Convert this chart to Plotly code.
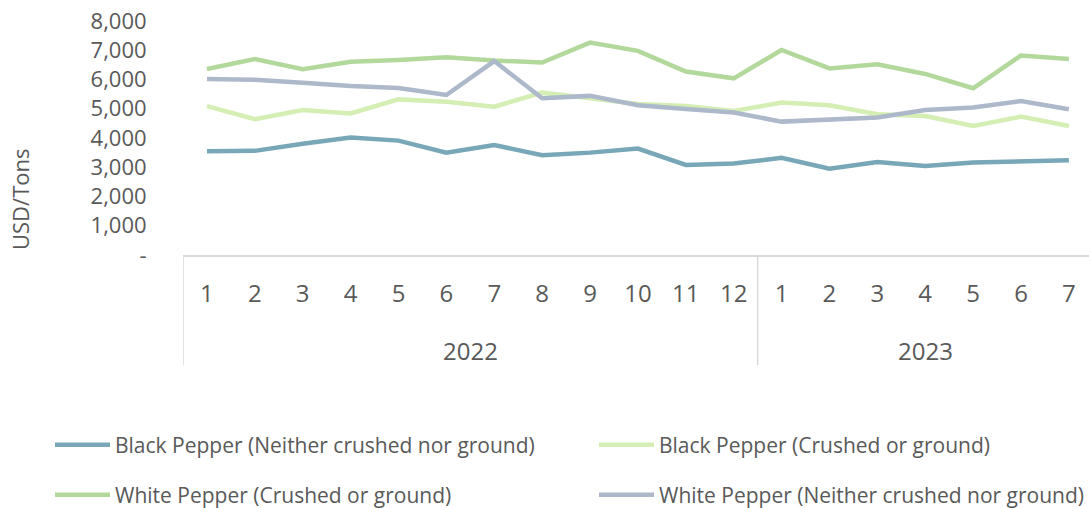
import plotly.graph_objects as go

years = ["2022"] * 12 + ["2023"] * 7
months = [str(m) for m in range(1, 13)] + [str(m) for m in range(1, 8)]
categories = [f"{y}-{m}" for y, m in zip(years, months)]

black_neither = [3550, 3560, 3800, 4020, 3910, 3500, 3760, 3410, 3500, 3640, 3080, 3130,
                 3320, 2950, 3180, 3040, 3160, 3210, 3240]
black_crushed = [5090, 4640, 4960, 4840, 5320, 5240, 5070, 5550, 5360, 5160, 5090, 4920,
                 5210, 5120, 4810, 4750, 4410, 4730, 4410]
white_crushed = [6360, 6700, 6350, 6610, 6670, 6760, 6650, 6580, 7260, 6980, 6270, 6040,
                 7010, 6380, 6520, 6190, 5700, 6820, 6700]
white_neither = [6020, 5990, 5890, 5780, 5710, 5470, 6630, 5360, 5440, 5120, 4990, 4870,
                 4560, 4640, 4700, 4960, 5040, 5260, 4980]

series = [
    ("Black Pepper (Neither crushed nor ground)", black_neither, "#78A7B7"),
    ("Black Pepper (Crushed or ground)", black_crushed, "#D4EEB3"),
    ("White Pepper (Crushed or ground)", white_crushed, "#B2D89C"),
    ("White Pepper (Neither crushed nor ground)", white_neither, "#ADB8CA"),
]
legend_ids = ["legend", "legend2", "legend3", "legend4"]
# legend slot positions (px): anchor x, row centre y
legend_pos = [(50, 445), (594, 445), (50, 495), (594, 495)]

FONT = "Open Sans, sans-serif"
GREY = "#595959"
LINE = "#D9D9D9"
W, H = 1089, 508

fig = go.Figure()
for (name, vals, color), leg in zip(series, legend_ids):
    fig.add_trace(go.Scatter(
        x=categories, y=vals, name=name, mode="lines",
        line=dict(color=color, width=4.5), legend=leg,
    ))

# year group labels and dividers
year_names = ["2022", "2023"]
shapes = []
annotations = []
bounds = [-0.5]
for yn in year_names:
    idx = [i for i, y in enumerate(years) if y == yn]
    annotations.append(dict(text=yn, xref="x", yref="paper",
                            x=(idx[0] + idx[-1]) / 2, y=-(350 - 255) / 234,
                            showarrow=False, xanchor="center", yanchor="middle",
                            font=dict(size=24, color=GREY)))
    bounds.append(idx[-1] + 0.5)
for b in bounds:
    shapes.append(dict(type="line", xref="x", yref="paper", x0=b, x1=b,
                       y0=0, y1=-(365 - 255) / 234, line=dict(color=LINE, width=1.5)))

annotations.append(dict(text="USD/Tons", xref="paper", yref="paper",
                        x=(20 - 183) / 906, y=(255 - 200) / 234, showarrow=False,
                        textangle=-90, xanchor="center", yanchor="middle",
                        font=dict(size=22, color=GREY)))

legends = {}
for leg, (px, py) in zip(legend_ids, legend_pos):
    legends[leg] = dict(orientation="h", xref="container", yref="container",
                        x=px / W, y=1 - py / H, xanchor="left", yanchor="middle",
                        itemwidth=55, font=dict(size=21, color=GREY),
                        bgcolor="rgba(0,0,0,0)")

fig.update_layout(
    width=W, height=H,
    margin=dict(l=183, r=0, t=21, b=253, autoexpand=False),
    plot_bgcolor="white", paper_bgcolor="white",
    font=dict(family=FONT, color=GREY, size=22),
    showlegend=True,
    annotations=annotations,
    shapes=shapes,
    **legends,
)
fig.update_xaxes(type="category", range=[-0.5, 18.42], showline=True,
                 linecolor=LINE, linewidth=1.5, showgrid=False, automargin=False,
                 tickmode="array", tickvals=categories, ticktext=months,
                 tickfont=dict(size=24, color=GREY), ticks="outside", ticklen=16,
                 tickcolor="rgba(0,0,0,0)")
fig.update_yaxes(range=[0, 8000], tickvals=[0, 1000, 2000, 3000, 4000, 5000, 6000, 7000, 8000],
                 ticktext=["-", "1,000", "2,000", "3,000", "4,000", "5,000", "6,000", "7,000", "8,000"],
                 showgrid=False, zeroline=False, showline=False, automargin=False,
                 tickfont=dict(size=22, color=GREY), ticks="outside", ticklen=31,
                 tickcolor="rgba(0,0,0,0)")

fig.write_html("out.html", config={"displayModeBar": False},
               post_script="document.body.style.margin='0';")
